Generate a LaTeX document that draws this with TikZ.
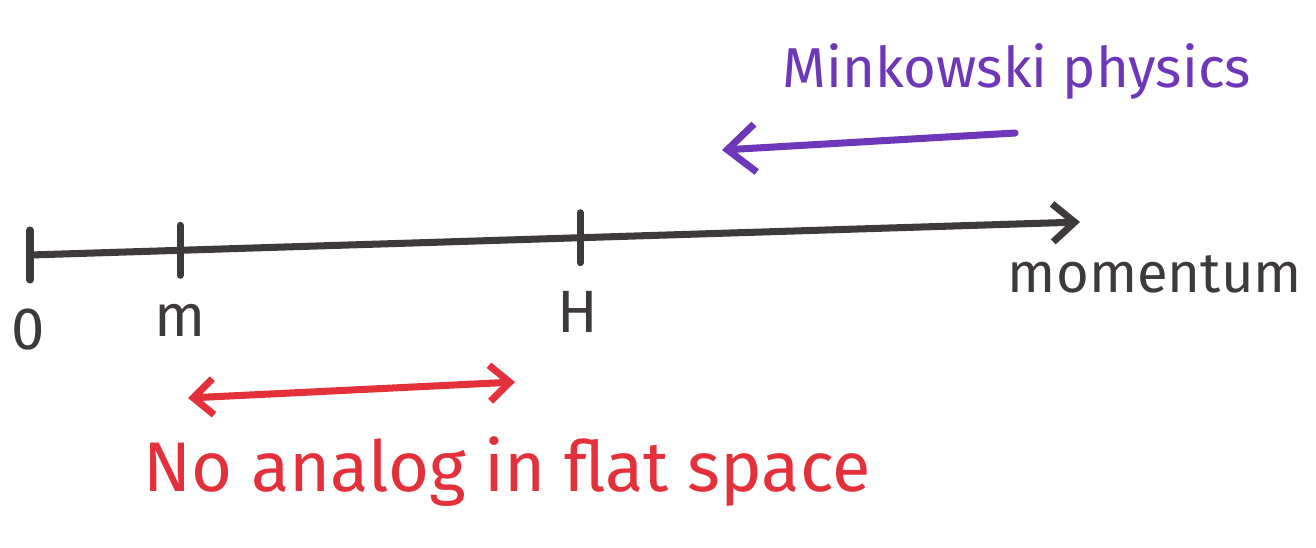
\documentclass[tikz,border=0pt]{standalone}
\usepackage{fontspec}
\setmainfont{Fira Sans}
\usetikzlibrary{arrows.meta,calc}
\definecolor{penGray}{RGB}{62,58,58}
\definecolor{penPurple}{RGB}{110,55,185}
\definecolor{penRed}{RGB}{228,48,58}
\tikzset{
  axis/.style={penGray, line width=2pt, line cap=round},
  lbl/.style={penGray, font=\fontsize{17}{20}\selectfont},
  axtip/.tip={Straight Barb[length=0.22cm, width=0.38cm, line width=2pt]},
  mktip/.tip={Straight Barb[length=0.28cm, width=0.48cm, line width=2pt]},
  rdtip/.tip={Straight Barb[length=0.2cm, width=0.36cm, line width=2pt]}
}
\begin{document}
\begin{tikzpicture}
    \useasboundingbox (0,0) rectangle (13.16,5.47);

    %% momentum axis
    \coordinate (zero) at (0.30,2.92);
    \coordinate (tip) at (10.80,3.25);
    \coordinate (m) at ($(zero)!0.143!(tip)$);
    \coordinate (H) at ($(zero)!0.524!(tip)$);
    \draw[axis, -axtip] (zero) -- (tip);
    \foreach \p in {zero,m,H}
      \draw[axis] ([yshift=-0.25cm]\p) -- ([yshift=0.25cm]\p);

    %% tick labels
    \node[lbl] (lzero) at (0.28,2.17) {0};
    \node[lbl] (lm) at (1.80,2.27) {m};
    \node[lbl] (lH) at (5.78,2.35) {H};
    \node[lbl, font=\fontsize{16}{19}\selectfont] (lmom) at (11.55,2.73) {momentum};

    %% Minkowski regime
    \node[penPurple, font=\fontsize{16}{19}\selectfont] (mink) at (10.17,4.75) {Minkowski physics};
    \coordinate (mtail) at (10.15,4.14);
    \coordinate (mhead) at (7.22,3.97);
    \draw[axis, penPurple, -mktip] (mtail) -- (mhead);

    %% no flat-space analog
    \coordinate (nleft) at (1.88,1.49);
    \coordinate (nright) at (5.15,1.65);
    \draw[axis, penRed, rdtip-rdtip] (nleft) -- (nright);
    \node[penRed, font=\fontsize{20}{24}\selectfont] (noanalog) at (5.07,0.75) {No analog in flat space};
\end{tikzpicture}
\end{document}
